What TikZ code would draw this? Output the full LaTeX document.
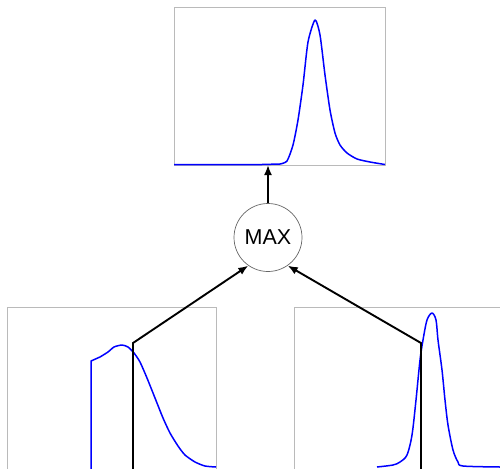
\documentclass[tikz,border=0pt]{standalone}
\usepackage{fontspec}
\setmainfont{Liberation Sans}
\usetikzlibrary{arrows.meta}

\tikzset{
  cadre/.style={draw=black!27, line width=0.8pt},
  courbe/.style={draw=blue, line width=1.5pt, line join=round},
  fleche/.style={draw=black, line width=1.9pt, -{Latex[length=10pt,width=8pt]}},
}

\begin{document}
\begin{tikzpicture}[x=1pt, y=-1pt]
    \clip (0,0) rectangle (500,468);

    % Les trois cadres
    \draw[cadre] (174,7) rectangle (385,165);
    \draw[cadre] (7,307) rectangle (216,490);
    \draw[cadre] (294,307) rectangle (520,490);

    % Courbe du haut (le maximum)
    \draw[courbe] (174,164.5) -- (262,164.5) -- plot[smooth, tension=0.4] coordinates {
      (280,164) (287,161) (293,145) (298,120)
      (303,85) (308,42) (315,20) (320,35) (325,75) (330,110) (335,133)
      (340,145) (347,153) (357,159) (370,162) (385,164.5)};

    % Courbe de gauche
    \draw[courbe] (91,490) -- (91,361) -- plot[smooth, tension=0.4] coordinates {
      (100,357) (108,352) (114,347) (122,345) (128,347)
      (134,353) (140,362) (147,378) (155,398) (163,418) (170,433)
      (178,446) (185,455) (195,462) (205,466) (216,467)};

    % Courbe de droite
    \draw[courbe] plot[smooth, tension=0.5] coordinates {
      (377,467) (393,465) (400,462) (407,455) (412,435) (416,400)
      (420,360) (423,340) (427,320) (432,313) (436,320) (438,340)
      (442,370) (445,400) (448,425) (453,450) (458,462) (463,466) (500,467)};

    % Le noeud MAX
    \node[draw=black!60, line width=0.7pt, circle, minimum size=68pt, inner sep=0pt,
          font=\fontsize{21.5}{23}\selectfont] (max) at (268,237.5) {MAX};

    % Points de depart et d'arrivee des fleches
    \coordinate (haut) at (268,165);
    \coordinate (gbas) at (133,470);
    \coordinate (gcoin) at (133,343);
    \coordinate (dbas) at (421,470);
    \coordinate (dcoin) at (421,343);

    \draw[fleche] (max) -- (haut);
    \draw[fleche] (gbas) -- (gcoin) -- (max.235);
    \draw[fleche] (dbas) -- (dcoin) -- (max.305);
\end{tikzpicture}
\end{document}
